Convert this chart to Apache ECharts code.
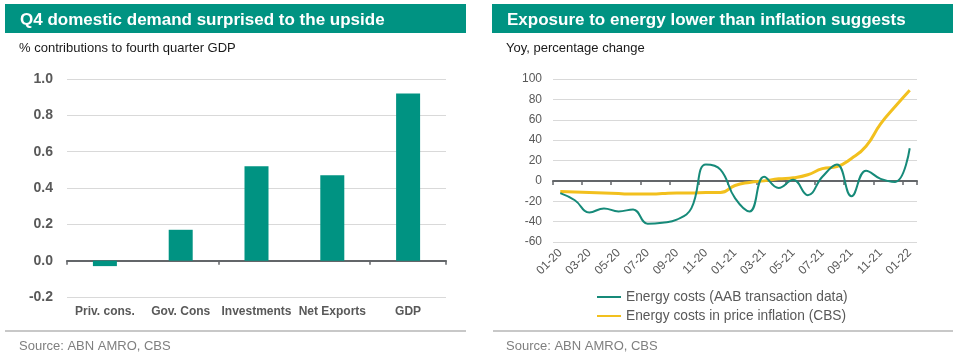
<!DOCTYPE html>
<html>
<head>
<meta charset="utf-8">
<script src="https://cdn.jsdelivr.net/npm/echarts@6/dist/echarts.min.js"></script>
<style>
html,body{margin:0;padding:0;background:#fff;}
#c{width:957px;height:358px;}
</style>
</head>
<body>
<div id="c"></div>
<script>
// Left chart data
const barCategories = ['Priv. cons.', 'Gov. Cons', 'Investments', 'Net Exports', 'GDP'];
const barValues = [-0.03, 0.17, 0.52, 0.47, 0.92];

// Right chart data
const months = ['01-20','02-20','03-20','04-20','05-20','06-20','07-20','08-20','09-20','10-20','11-20','12-20',
                '01-21','02-21','03-21','04-21','05-21','06-21','07-21','08-21','09-21','10-21','11-21','12-21','01-22'];
const energyAAB = [-12, -19, -31, -27, -30, -28, -42, -41, -38, -27, 16, 11,
                   -17, -30, 4, -7, 1, -14, 4, 16, -15, 10, 2, -1, 32];
const energyCBS = [-10.5, -11, -11.5, -12, -12.5, -13, -13, -12.5, -12, -12, -11.5, -11.5,
                   -4.5, -1.5, 0, 2, 3, 6, 12, 14, 22, 34, 56, 73, 89];

const TEAL = '#009382';
const GREEN = '#168a79';
const YELLOW = '#f2c01e';
const AXIS = '#595959';
const ZERO = '#636669';
const GRID = '#d9d9d9';
const FONT = 'Liberation Sans, Arial, sans-serif';

const chart = echarts.init(document.getElementById('c'), null, {renderer: 'canvas'});

chart.setOption({
  animation: false,
  textStyle: {fontFamily: FONT},
  graphic: [
    {type: 'rect', shape: {x: 5, y: 4, width: 461, height: 29}, style: {fill: TEAL}},
    {type: 'rect', shape: {x: 492, y: 4, width: 461, height: 29}, style: {fill: TEAL}},
    {type: 'line', shape: {x1: 5, y1: 331, x2: 466, y2: 331}, style: {stroke: '#c8c8c8', lineWidth: 2}},
    {type: 'line', shape: {x1: 493, y1: 331, x2: 953, y2: 331}, style: {stroke: '#c8c8c8', lineWidth: 2}}
  ],
  title: [
    {text: 'Q4 domestic demand surprised to the upside', left: 20, top: 11.5, padding: 0,
     textStyle: {color: '#fff', fontSize: 17, fontWeight: 'bold', fontFamily: FONT}},
    {text: '% contributions to fourth quarter GDP', left: 19, top: 41.5, padding: 0,
     textStyle: {color: '#1a1a1a', fontSize: 13, fontWeight: 'normal', fontFamily: FONT}},
    {text: 'Exposure to energy lower than inflation suggests', left: 507, top: 11.5, padding: 0,
     textStyle: {color: '#fff', fontSize: 17, fontWeight: 'bold', fontFamily: FONT}},
    {text: 'Yoy, percentage change', left: 506, top: 41.5, padding: 0,
     textStyle: {color: '#1a1a1a', fontSize: 13, fontWeight: 'normal', fontFamily: FONT}},
    {text: 'Source: ABN AMRO, CBS', left: 19, top: 339.5, padding: 0,
     textStyle: {color: '#7f7f7f', fontSize: 13, fontWeight: 'normal', fontFamily: FONT}},
    {text: 'Source: ABN AMRO, CBS', left: 506, top: 339.5, padding: 0,
     textStyle: {color: '#7f7f7f', fontSize: 13, fontWeight: 'normal', fontFamily: FONT}}
  ],
  legend: {
    orient: 'vertical', left: 596, top: 290, padding: 0, itemWidth: 24, itemHeight: 14, itemGap: 5,
    data: ['Energy costs (AAB transaction data)', 'Energy costs in price inflation (CBS)'],
    itemStyle: {color: 'transparent', borderColor: 'transparent', borderWidth: 0, opacity: 0},
    textStyle: {color: AXIS, fontSize: 13.75, fontFamily: FONT}
  },
  grid: [
    {left: 67, right: 511, top: 79, bottom: 61},
    {left: 553, right: 40, top: 79, bottom: 116}
  ],
  xAxis: [
    {type: 'category', gridIndex: 0, data: barCategories, position: 'bottom',
     axisLine: {show: false, onZero: false}, axisTick: {show: false},
     axisLabel: {color: AXIS, fontSize: 12, fontWeight: 'bold', margin: 9, interval: 0}},
    {type: 'category', gridIndex: 0, data: barCategories, position: 'bottom',
     axisLine: {show: true, onZero: true, lineStyle: {color: ZERO, width: 2}},
     axisTick: {show: true, length: 4, lineStyle: {color: ZERO, width: 1.5}},
     axisLabel: {show: false}},
    {type: 'category', gridIndex: 1, data: months, position: 'bottom',
     axisLine: {show: false, onZero: false}, axisTick: {show: false},
     axisLabel: {color: AXIS, fontSize: 12, rotate: 45, interval: 1, margin: 9}},
    {type: 'category', gridIndex: 1, data: months, position: 'bottom',
     axisLine: {show: true, onZero: true, lineStyle: {color: ZERO, width: 2}},
     axisTick: {show: true, length: 4, interval: 1, lineStyle: {color: ZERO, width: 1.5}},
     axisLabel: {show: false}}
  ],
  yAxis: [
    {type: 'value', gridIndex: 0, min: -0.2, max: 1.0, interval: 0.2,
     axisLine: {show: false}, axisTick: {show: false},
     splitLine: {lineStyle: {color: GRID, width: 1}},
     axisLabel: {color: AXIS, fontSize: 14, fontWeight: 'bold', margin: 14,
                 formatter: v => v.toFixed(1)}},
    {type: 'value', gridIndex: 1, min: -60, max: 100, interval: 20,
     axisLine: {show: false}, axisTick: {show: false},
     splitLine: {lineStyle: {color: GRID, width: 1}},
     axisLabel: {color: AXIS, fontSize: 12, margin: 11}}
  ],
  series: [
    {type: 'bar', xAxisIndex: 0, yAxisIndex: 0, data: barValues, barWidth: 24,
     itemStyle: {color: TEAL}, z: 1},
    {name: 'Energy costs (AAB transaction data)', type: 'line', xAxisIndex: 2, yAxisIndex: 1,
     data: energyAAB, smooth: 0.45, symbol: 'none', lineStyle: {color: GREEN, width: 2}, itemStyle: {color: GREEN}, z: 3},
    {name: 'Energy costs in price inflation (CBS)', type: 'line', xAxisIndex: 2, yAxisIndex: 1,
     data: energyCBS, smooth: 0.5, symbol: 'none', lineStyle: {color: YELLOW, width: 3}, itemStyle: {color: YELLOW}, z: 2}
  ]
});
</script>
</body>
</html>
